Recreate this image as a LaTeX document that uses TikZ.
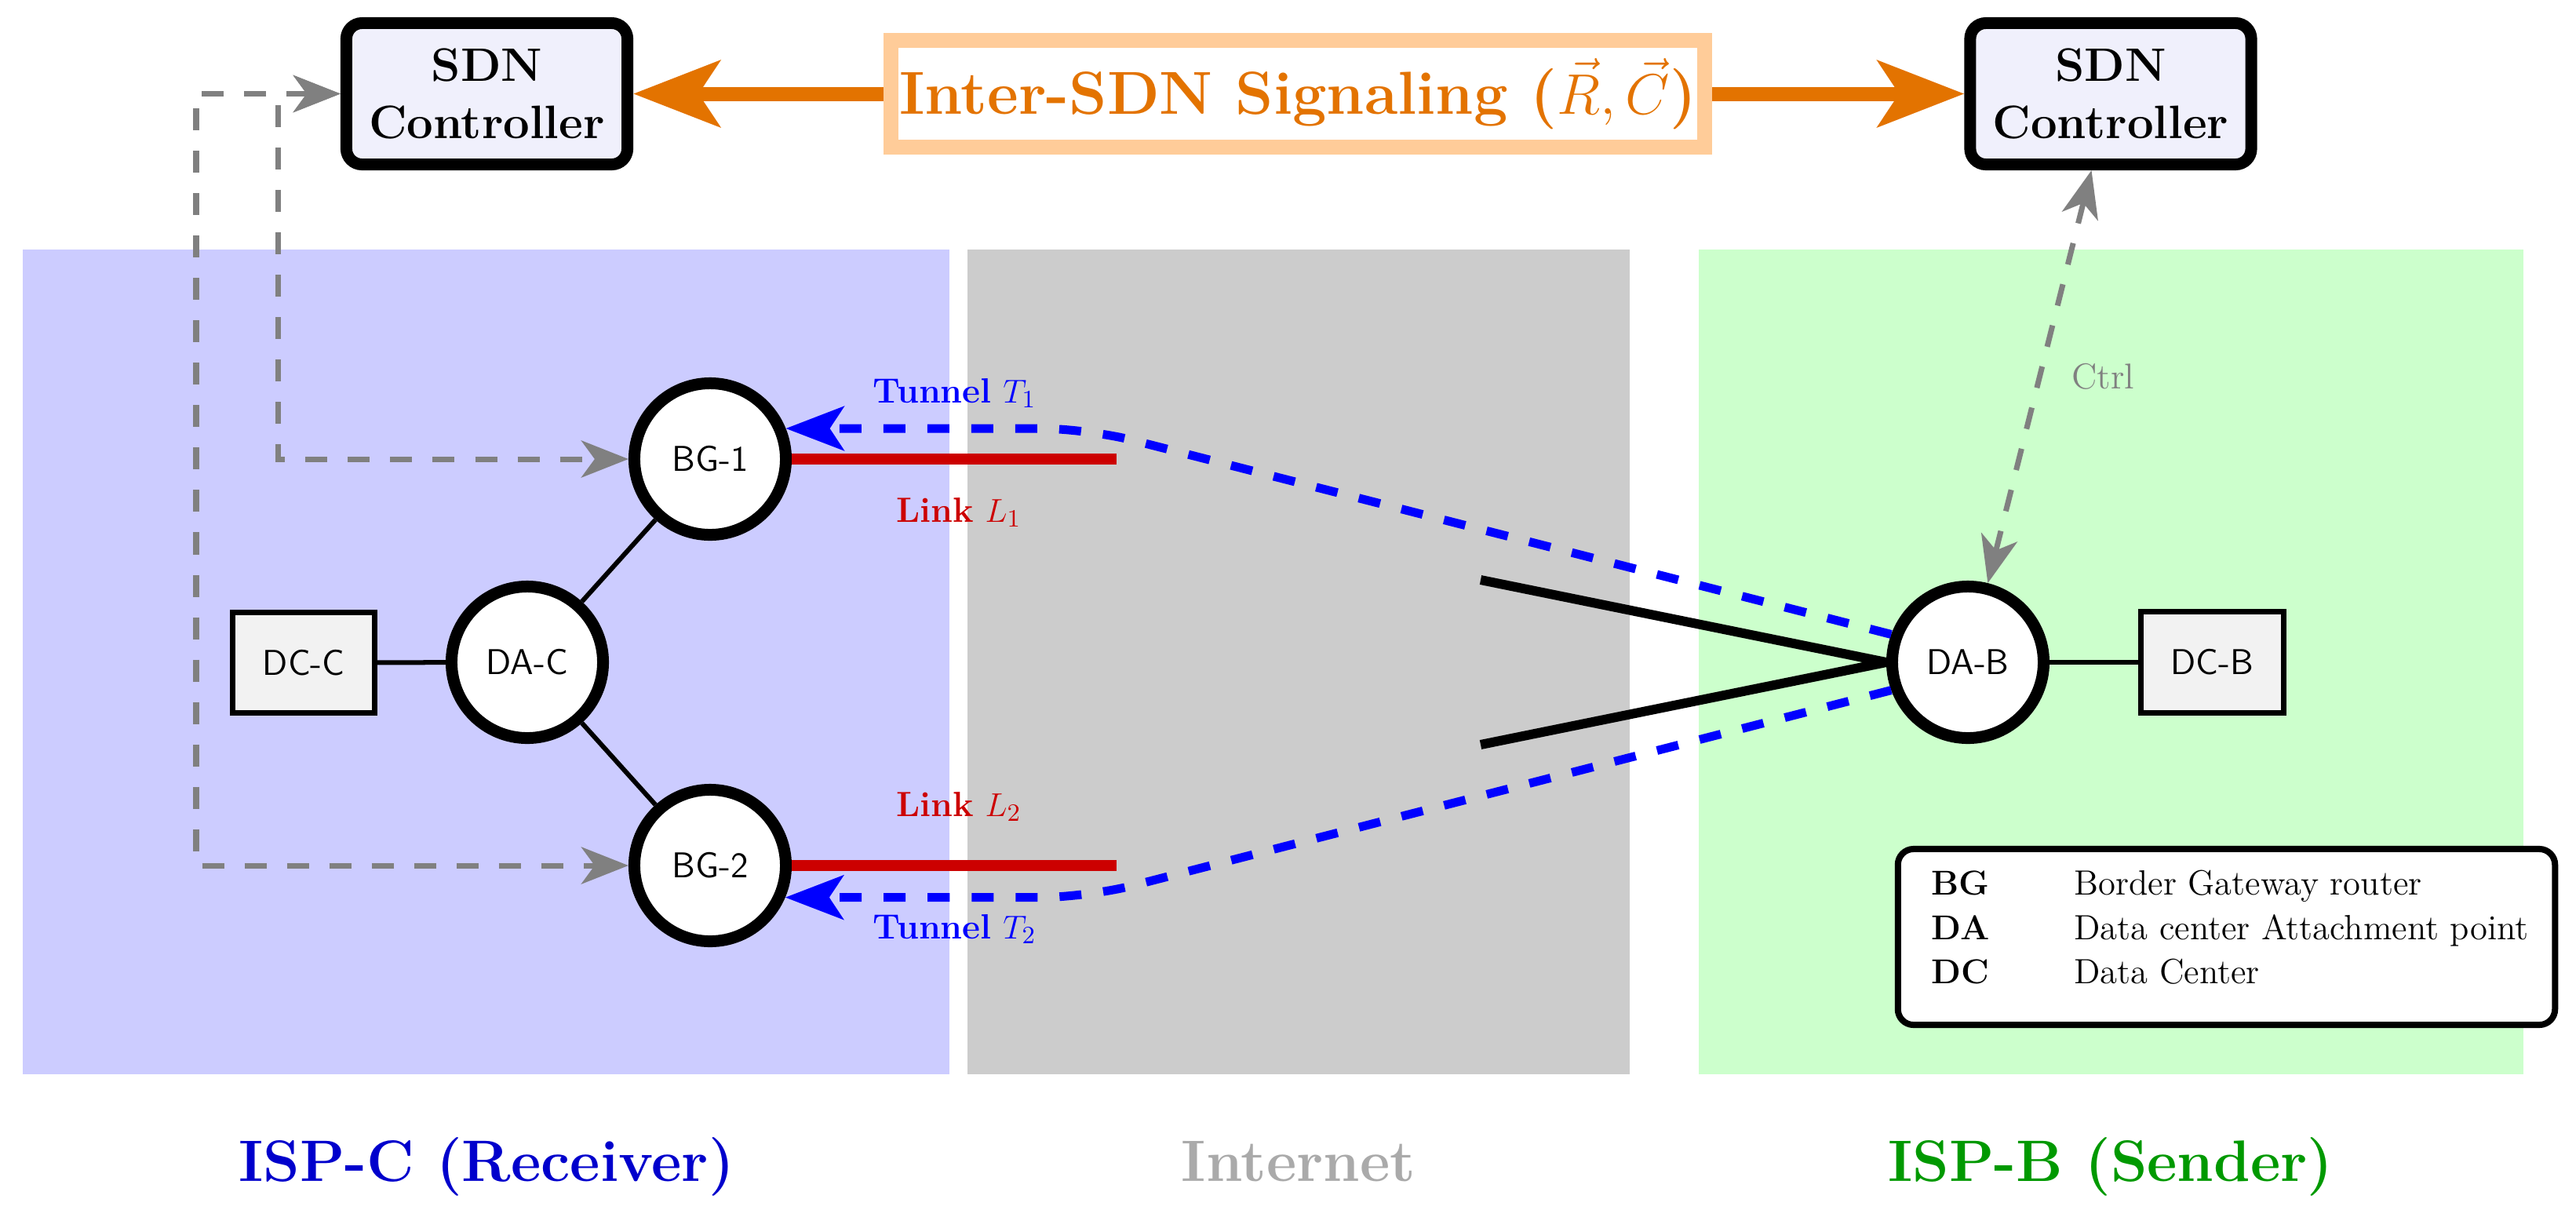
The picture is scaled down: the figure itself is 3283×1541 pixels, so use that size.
\documentclass[tikz,border=0pt]{standalone}
\usetikzlibrary{arrows.meta}
\definecolor{regblue}{RGB}{204,204,255}
\definecolor{reggray}{RGB}{204,204,204}
\definecolor{reggreen}{RGB}{204,255,204}
\definecolor{ctrlfill}{RGB}{240,240,252}
\definecolor{dcfill}{RGB}{242,242,242}
\definecolor{orangeC}{RGB}{227,115,0}
\definecolor{orangeL}{RGB}{255,204,153}
\definecolor{linkred}{RGB}{204,0,0}
\definecolor{tunblue}{RGB}{0,0,255}
\definecolor{labblue}{RGB}{0,0,204}
\definecolor{labgreen}{RGB}{0,153,0}
\definecolor{labgray}{RGB}{170,170,170}
\definecolor{ctrlgray}{RGB}{128,128,128}
\begin{document}
\begin{tikzpicture}[x=0.01cm,y=-0.01cm,
  router/.style={circle, draw=black, fill=white, line width=1.5mm, minimum size=1.93cm, inner sep=0pt, font=\sffamily\fontsize{13}{15}\selectfont},
  dcbox/.style={rectangle, draw=black, fill=dcfill, line width=0.7mm, minimum width=1.81cm, minimum height=1.28cm, inner sep=0pt, font=\sffamily\fontsize{13}{15}\selectfont},
  sdn/.style={rectangle, rounded corners=2mm, draw=black, line width=1.5mm, fill=ctrlfill, minimum width=3.58cm, minimum height=1.80cm, align=center, inner sep=0pt, font=\bfseries\fontsize{17}{20.7}\selectfont},
  sig/.style={rectangle, draw=orangeL, line width=1.9mm, fill=white, minimum width=10.37cm, minimum height=1.36cm, inner sep=0pt, text=orangeC, font=\bfseries\fontsize{22}{26}\selectfont},
  sigarrow/.style={draw=orangeC, line width=1.8mm, -{Stealth[length=11mm, width=8.4mm, inset=2.7mm]}},
  ctrlline/.style={draw=ctrlgray, line width=0.7mm, dash pattern=on 2.8mm off 2.6mm, {Stealth[length=6mm, width=4.7mm, inset=1.7mm]}-{Stealth[length=6mm, width=4.7mm, inset=1.7mm]}},
  tunnel/.style={draw=tunblue, line width=1.1mm, dash pattern=on 2.8mm off 2.8mm, rounded corners=6mm, -{Stealth[length=7.4mm, width=5.6mm, inset=1.8mm]}},
  link/.style={draw=linkred, line width=1.4mm},
  wire/.style={draw=black, line width=0.6mm},
  peer/.style={draw=black, line width=1.2mm},
  lbl/.style={anchor=base west, font=\fontsize{12.7}{15}\selectfont},
  region/.style={anchor=base, font=\bfseries\fontsize{21.2}{26}\selectfont},
  legkey/.style={anchor=base west, font=\bfseries\fontsize{12.5}{14}\selectfont},
  legtxt/.style={anchor=base west, font=\fontsize{12.7}{14}\selectfont}
]
\useasboundingbox (0,0) rectangle (3283,1541);

% regions
\fill[regblue] (29,318) rectangle (1210,1369);
\fill[reggray] (1233,318) rectangle (2077,1369);
\fill[reggreen] (2165,318) rectangle (3216,1369);

% controllers and signaling
\node[sdn] (ctrlA) at (620.5,119.5) {SDN\\Controller};
\node[sdn] (ctrlB) at (2690,119.5) {SDN\\Controller};
\node[sig] (sig) at (1654,119.5) {Inter-SDN Signaling ($\vec{R},\vec{C}$)};

% network nodes
\node[router] (bg1) at (905,585) {BG-1};
\node[router] (bg2) at (905,1103) {BG-2};
\node[router] (dac) at (672,844) {DA-C};
\node[dcbox] (dcc) at (387,844.5) {DC-C};
\node[router] (dab) at (2508,844) {DA-B};
\node[dcbox] (dcb) at (2819.5,844) {DC-B};

% legend
\node[rectangle, draw=black, fill=white, rounded corners=2mm, line width=0.8mm, minimum width=8.37cm, minimum height=2.24cm] (legend) at (2837.5,1194) {};
\node[legkey] (kbg) at (2449,1140) {BG};
\node[legtxt] (tbg) at (2631,1140) {Border Gateway router};
\node[legkey] (kda) at (2449,1197) {DA};
\node[legtxt] (tda) at (2631,1197) {Data center Attachment point};
\node[legkey] (kdc) at (2449,1253) {DC};
\node[legtxt] (tdc) at (2631,1253) {Data Center};

% helper coordinates
\coordinate (outerx) at (250,119.5);
\coordinate (innerx) at (354,119.5);
\coordinate (l1end) at (1423,585);
\coordinate (l2end) at (1423,1103);
\coordinate (p1) at (1887,739);
\coordinate (p2) at (1887,949);
\coordinate (kx) at (1385,0);

% signaling arrows
\draw[sigarrow] (sig.west) -- (ctrlA.east);
\draw[sigarrow] (sig.east) -- (ctrlB.west);

% control lines
\draw[ctrlline] (ctrlA.west) -- (outerx) |- (bg2.west);
\draw[ctrlline] (ctrlA.west) -- (innerx) |- (bg1.west);
\draw[ctrlline] (dab) -- (ctrlB);
\node[anchor=base west, text=ctrlgray, font=\fontsize{13}{15}\selectfont] (ctrllbl) at (2628,495) {Ctrl};

% wires
\draw[wire] (dcc) -- (dac);
\draw[wire] (dac) -- (bg1);
\draw[wire] (dac) -- (bg2);
\draw[wire] (dab) -- (dcb);

% links
\draw[link] (bg1.east) -- (l1end);
\draw[link] (bg2.east) -- (l2end);

% peering lines
\draw[peer] (p1) -- (dab.west);
\draw[peer] (p2) -- (dab.west);

% tunnels
\draw[tunnel] (dab.160) -- (bg1.22 -| kx) -- (bg1.22);
\draw[tunnel] (dab.200) -- (bg2.-23 -| kx) -- (bg2.-23);

% labels
\node[lbl, text=tunblue] (t1lbl) at (1100,513) {\textbf{Tunnel} $T_1$};
\node[lbl, text=linkred] (l1lbl) at (1130,665) {\textbf{Link} $L_1$};
\node[lbl, text=linkred] (l2lbl) at (1130,1040) {\textbf{Link} $L_2$};
\node[lbl, text=tunblue] (t2lbl) at (1100,1196) {\textbf{Tunnel} $T_2$};

% region labels
\node[region, text=labblue] (rc) at (620,1505) {ISP-C (Receiver)};
\node[region, text=labgray] (ri) at (1655,1505) {Internet};
\node[region, text=labgreen] (rb) at (2690,1505) {ISP-B (Sender)};
\end{tikzpicture}
\end{document}
